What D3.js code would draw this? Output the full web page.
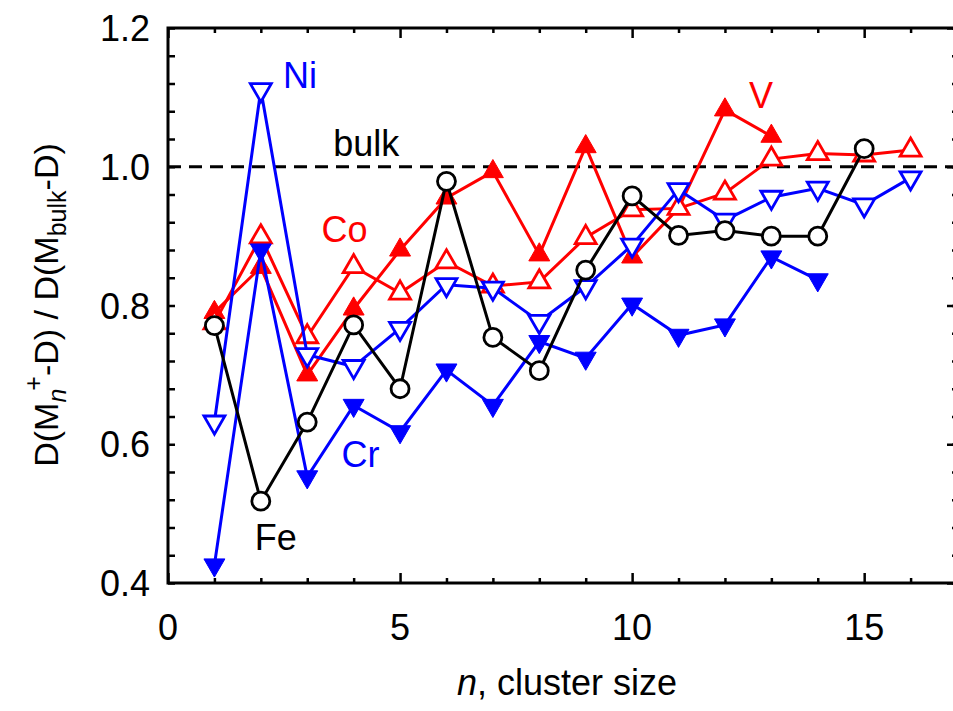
<!DOCTYPE html>
<html>
<head>
<meta charset="utf-8">
<script src="https://cdn.jsdelivr.net/npm/d3@7"></script>
<style>
  body { margin: 0; background: #fff; }
  svg { display: block; font-family: "Liberation Sans", Arial, sans-serif; }
</style>
</head>
<body>
<div id="chart"></div>
<script>
// chart frame
const FRAME_WIDTH = 953;
const FRAME_HEIGHT = 711;
const MARGINS = {left: 168, right: -4, top: 28, bottom: 128};

// cluster sizes and the series
const sizesV  = [1, 2, 3, 4, 5, 6, 7, 8, 9, 10, 11, 12, 13];
const valuesV = [0.790, 0.855, 0.700, 0.795, 0.880, 0.955, 0.993, 0.873, 1.029, 0.870, 0.940, 1.082, 1.044];

const sizesCo  = [1, 2, 3, 4, 5, 6, 7, 8, 9, 10, 11, 12, 13, 14, 15, 16];
const valuesCo = [0.775, 0.899, 0.755, 0.856, 0.818, 0.863, 0.828, 0.834, 0.898, 0.938, 0.940, 0.962, 1.011, 1.019, 1.017, 1.024];

const sizesCr  = [1, 2, 3, 4, 5, 6, 7, 8, 9, 10, 11, 12, 13, 14];
const valuesCr = [0.426, 0.880, 0.553, 0.656, 0.618, 0.707, 0.656, 0.748, 0.724, 0.802, 0.757, 0.772, 0.870, 0.837];

const sizesNi  = [1, 2, 3, 4, 5, 6, 7, 8, 9, 10, 11, 12, 13, 14, 15, 16];
const valuesNi = [0.632, 1.111, 0.729, 0.712, 0.767, 0.830, 0.825, 0.777, 0.827, 0.887, 0.967, 0.923, 0.956, 0.969, 0.945, 0.984];

const sizesFe  = [1, 2, 3, 4, 5, 6, 7, 8, 9, 10, 11, 12, 13, 14, 15];
const valuesFe = [0.771, 0.518, 0.632, 0.772, 0.680, 0.979, 0.754, 0.706, 0.851, 0.958, 0.901, 0.908, 0.900, 0.900, 1.026];

const bulkLevel = 1.0;

// axis ticks
const xMajorTicks = [0, 5, 10, 15];
const yMajorTicks = [0.4, 0.6, 0.8, 1.0, 1.2];

const VIS_WIDTH = FRAME_WIDTH - MARGINS.left - MARGINS.right;
const VIS_HEIGHT = FRAME_HEIGHT - MARGINS.top - MARGINS.bottom;

const svg = d3.select("#chart")
  .append("svg")
    .attr("width", FRAME_WIDTH)
    .attr("height", FRAME_HEIGHT);

const X_SCALE = d3.scaleLinear().domain([0, 17]).range([MARGINS.left, MARGINS.left + VIS_WIDTH]);
const Y_SCALE = d3.scaleLinear().domain([0.4, 1.2]).range([MARGINS.top + VIS_HEIGHT, MARGINS.top]);

// ticks: minor every 1 on x, every 0.04 on y, all pointing inward
const xMinor = d3.range(0, 18, 1);
const yMinor = d3.range(0, 21).map(i => 0.4 + i * 0.04);

function addAxis(axisFn, scale, translate, values, size) {
  svg.append("g")
    .attr("transform", translate)
    .call(axisFn(scale).tickValues(values).tickSize(size).tickFormat(""))
    .call(g => g.select(".domain").remove())
    .call(g => g.selectAll("line").attr("stroke", "#000").attr("stroke-width", 2.5));
}
const x0 = X_SCALE(0), x1 = X_SCALE(17), y0 = Y_SCALE(0.4), y1 = Y_SCALE(1.2);
addAxis(d3.axisTop, X_SCALE, `translate(0,${y0})`, xMinor.filter(d => d % 5), 5);
addAxis(d3.axisTop, X_SCALE, `translate(0,${y0})`, xMajorTicks, 10);
addAxis(d3.axisBottom, X_SCALE, `translate(0,${y1})`, xMinor.filter(d => d % 5), 5);
addAxis(d3.axisBottom, X_SCALE, `translate(0,${y1})`, xMajorTicks, 10);
addAxis(d3.axisRight, Y_SCALE, `translate(${x0},0)`, yMinor, 7);
addAxis(d3.axisLeft, Y_SCALE, `translate(${x1},0)`, yMinor, 5);
addAxis(d3.axisLeft, Y_SCALE, `translate(${x1},0)`, yMajorTicks, 10);

// tick labels
svg.append("g").selectAll("text")
  .data(xMajorTicks).join("text")
    .attr("x", d => X_SCALE(d))
    .attr("y", y0 + 57)
    .attr("text-anchor", "middle")
    .attr("font-size", 36)
    .text(d => d);

svg.append("g").selectAll("text")
  .data(yMajorTicks).join("text")
    .attr("x", x0 - 18)
    .attr("y", d => Y_SCALE(d) + 13)
    .attr("text-anchor", "end")
    .attr("font-size", 36)
    .text(d => d.toFixed(1));

// bulk reference line
svg.append("line")
  .attr("x1", x0).attr("x2", x1)
  .attr("y1", Y_SCALE(bulkLevel)).attr("y2", Y_SCALE(bulkLevel))
  .attr("stroke", "#000").attr("stroke-width", 3)
  .attr("stroke-dasharray", "13,8");

const line = d3.line().x(d => X_SCALE(d[0])).y(d => Y_SCALE(d[1]));

const triUp = d3.symbol().type(d3.symbolTriangle).size(190);

function drawSeries(xs, ys, color, marker, filled) {
  const pts = xs.map((x, i) => [x, ys[i]]);
  const g = svg.append("g");
  g.append("path")
    .datum(pts)
    .attr("d", line)
    .attr("fill", "none")
    .attr("stroke", color)
    .attr("stroke-width", 3);
  const m = g.selectAll(".m").data(pts).join(marker === "circle" ? "circle" : "path");
  if (marker === "circle") {
    m.attr("cx", d => X_SCALE(d[0])).attr("cy", d => Y_SCALE(d[1])).attr("r", 9);
  } else {
    const rot = marker === "down" ? 180 : 0;
    m.attr("d", triUp())
     .attr("transform", d => `translate(${X_SCALE(d[0])},${Y_SCALE(d[1])}) rotate(${rot})`);
  }
  m.attr("fill", filled ? color : "#fff")
   .attr("stroke", color)
   .attr("stroke-width", filled ? 1 : 2.8);
}

drawSeries(sizesV, valuesV, "#ff0000", "up", true);
drawSeries(sizesCo, valuesCo, "#ff0000", "up", false);
drawSeries(sizesCr, valuesCr, "#0000ff", "down", true);
drawSeries(sizesNi, valuesNi, "#0000ff", "down", false);
drawSeries(sizesFe, valuesFe, "#000000", "circle", false);

// series labels
const labels = [
  {text: "Ni", x: 2.48, y: 1.114, color: "#0000ff"},
  {text: "bulk", x: 3.56, y: 1.016, color: "#000"},
  {text: "Co", x: 3.31, y: 0.892, color: "#ff0000"},
  {text: "V", x: 12.52, y: 1.085, color: "#ff0000"},
  {text: "Cr", x: 3.74, y: 0.567, color: "#0000ff"},
  {text: "Fe", x: 1.87, y: 0.447, color: "#000"}
];
svg.append("g").selectAll("text")
  .data(labels).join("text")
    .attr("x", d => X_SCALE(d.x))
    .attr("y", d => Y_SCALE(d.y))
    .attr("fill", d => d.color)
    .attr("font-size", 36)
    .text(d => d.text);

// frame
svg.append("rect")
  .attr("x", x0).attr("y", y1)
  .attr("width", x1 - x0).attr("height", y0 - y1)
  .attr("fill", "none").attr("stroke", "#000").attr("stroke-width", 3);

// axis titles
const xt = svg.append("text")
  .attr("x", 567).attr("y", 695)
  .attr("text-anchor", "middle")
  .attr("font-size", 36);
xt.append("tspan").attr("font-style", "italic").text("n");
xt.append("tspan").text(", cluster size");

const yt = svg.append("text")
  .attr("transform", "translate(58,305) rotate(-90)")
  .attr("text-anchor", "middle")
  .attr("font-size", 34);
yt.append("tspan").text("D(M");
yt.append("tspan").attr("font-style", "italic").attr("font-size", 25).attr("dy", 8).text("n");
yt.append("tspan").attr("font-size", 25).attr("dy", -24).attr("dx", -2).text("+");
yt.append("tspan").attr("dy", 16).text("-D) / D(M");
yt.append("tspan").attr("font-size", 25).attr("dy", 8).text("bulk");
yt.append("tspan").attr("dy", -8).text("-D)");
</script>
</body>
</html>
